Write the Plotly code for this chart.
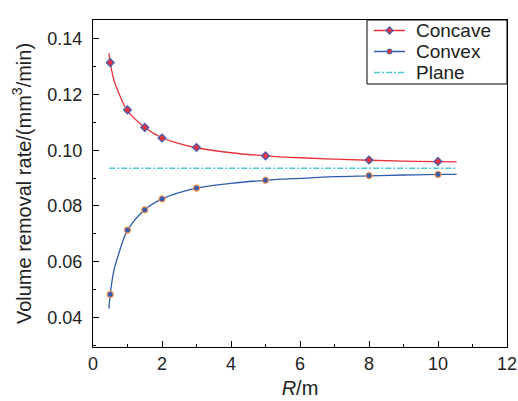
import plotly.graph_objects as go

# Measured data points
r_points = [0.5, 1, 1.5, 2, 3, 5, 8, 10]
concave_vals = [0.1315, 0.1145, 0.1082, 0.1044, 0.1010, 0.0980, 0.0965, 0.0960]
convex_vals = [0.0482, 0.0713, 0.0786, 0.0825, 0.0864, 0.0892, 0.0909, 0.0913]

# Fitted curves
fit_r = [0.46, 0.5, 0.6, 0.75, 1, 1.5, 2, 2.5, 3, 4, 5, 6, 7, 8, 9, 10, 10.54]
concave_fit = [0.1349, 0.1315, 0.1255, 0.1205, 0.1142, 0.1082, 0.1045, 0.1024, 0.1009,
               0.0991, 0.0980, 0.0973, 0.0968, 0.0964, 0.0961, 0.0959, 0.0958]
convex_fit = [0.0431, 0.0482, 0.0565, 0.0630, 0.0712, 0.0786, 0.0825, 0.0848, 0.0864,
              0.0881, 0.0892, 0.0899, 0.0905, 0.0908, 0.0911, 0.0913, 0.0913]

plane_r = [0.47, 10.5]
plane_vals = [0.0935, 0.0935]

series_names = ["Concave", "Convex", "Plane"]

x_ticks = [0, 2, 4, 6, 8, 10, 12]
y_ticks = [0.04, 0.06, 0.08, 0.10, 0.12, 0.14]

RED = "#e8323a"
BLUE = "#2f5cb0"
CYAN = "#4cc6d8"
DBLUE = "#4a5cb0"
ORANGE = "#f08c50"
DASH = "6px,2px,2px,2px"

fig = go.Figure()

fig.add_trace(go.Scatter(x=fit_r, y=concave_fit, mode="lines", line=dict(color=RED, width=1.3, shape="spline"),
                         showlegend=False, hoverinfo="skip"))
fig.add_trace(go.Scatter(x=fit_r, y=convex_fit, mode="lines", line=dict(color=BLUE, width=1.3, shape="spline"),
                         showlegend=False, hoverinfo="skip"))
fig.add_trace(go.Scatter(x=r_points, y=concave_vals, mode="markers", name=series_names[0],
                         marker=dict(symbol="diamond", size=6, color=RED, line=dict(color=DBLUE, width=1.3)),
                         showlegend=False))
fig.add_trace(go.Scatter(x=r_points, y=convex_vals, mode="markers", name=series_names[1],
                         marker=dict(symbol="circle", size=6, color=BLUE, line=dict(color=ORANGE, width=1.2)),
                         showlegend=False))
fig.add_trace(go.Scatter(x=plane_r, y=plane_vals, mode="lines", name=series_names[2],
                         line=dict(color=CYAN, width=1.5, dash=DASH), showlegend=False))

# ---- legend box drawn in paper coordinates (plot area 414 x 327 px) ----
PW, PH = 414.0, 327.0
def px(x):  # pixel from plot-area left -> paper
    return x / PW
def py(y):  # pixel from plot-area top -> paper
    return 1 - y / PH

shapes = [dict(type="rect", xref="paper", yref="paper", x0=px(274), x1=1, y0=py(64), y1=1,
               line=dict(color="black", width=1), fillcolor="white", layer="above")]
annotations = []
row_y = [10.5, 31.5, 52.5]
colors = [RED, BLUE, CYAN]
for i, name in enumerate(series_names):
    yy = py(row_y[i])
    shapes.append(dict(type="line", xref="paper", yref="paper", x0=px(281), x1=px(312), y0=yy, y1=yy,
                       line=dict(color=colors[i], width=1.5, dash=DASH if i == 2 else "solid")))
    annotations.append(dict(text=name, xref="paper", yref="paper", x=px(321), y=yy,
                            xanchor="left", yanchor="middle", showarrow=False,
                            font=dict(size=19, color="#222")))
cx = px(296.5)
# concave diamond
hw, hh = 3.5 / PW, 3.5 / PH
cy = py(row_y[0])
shapes.append(dict(type="path", xref="paper", yref="paper",
                   path=f"M {cx-hw},{cy} L {cx},{cy+hh} L {cx+hw},{cy} L {cx},{cy-hh} Z",
                   fillcolor=RED, line=dict(color=DBLUE, width=1.3)))
# convex dot
rw, rh = 2.5 / PW, 2.5 / PH
cy = py(row_y[1])
shapes.append(dict(type="circle", xref="paper", yref="paper", x0=cx - rw, x1=cx + rw, y0=cy - rh, y1=cy + rh,
                   fillcolor=RED, line=dict(color=BLUE, width=1)))

font_family = "Liberation Sans, Arial, sans-serif"

fig.update_layout(
    width=518, height=401,
    margin=dict(l=93, r=11, t=20, b=54, autoexpand=False),
    paper_bgcolor="white", plot_bgcolor="white",
    font=dict(family=font_family, size=18, color="#222"),
    showlegend=False,
    shapes=shapes, annotations=annotations,
)
fig.update_xaxes(range=[0, 12], tickvals=x_ticks, ticktext=[str(v) for v in x_ticks],
                 ticks="inside", ticklen=6, tickwidth=1.2, tickcolor="black",
                 minor=dict(dtick=1, ticks="inside", ticklen=3, tickcolor="black", tickwidth=1.2),
                 showline=True, linecolor="black", linewidth=1.3, mirror=True,
                 showgrid=False, zeroline=False, automargin=False,
                 tickfont=dict(size=18), ticklabelstandoff=0,
                 title=dict(text="<i>R</i>/m", standoff=8, font=dict(size=20)))
fig.update_yaxes(range=[0.0293, 0.1468], tickvals=y_ticks, ticktext=[f"{v:.2f}" for v in y_ticks],
                 ticks="inside", ticklen=6, tickwidth=1.2, tickcolor="black",
                 minor=dict(tickvals=[0.03, 0.05, 0.07, 0.09, 0.11, 0.13], ticks="inside", ticklen=3,
                            tickcolor="black", tickwidth=1.2),
                 showline=True, linecolor="black", linewidth=1.3, mirror=True,
                 showgrid=False, zeroline=False, automargin=False,
                 tickfont=dict(size=18), ticklabelstandoff=6,
                 title=dict(text="Volume removal rate/(mm<sup>3</sup>/min)", standoff=10, font=dict(size=20)))

fig.write_html("out.html", config={"displayModeBar": False},
               post_script="document.body.style.margin='0';document.body.style.overflow='hidden';")
